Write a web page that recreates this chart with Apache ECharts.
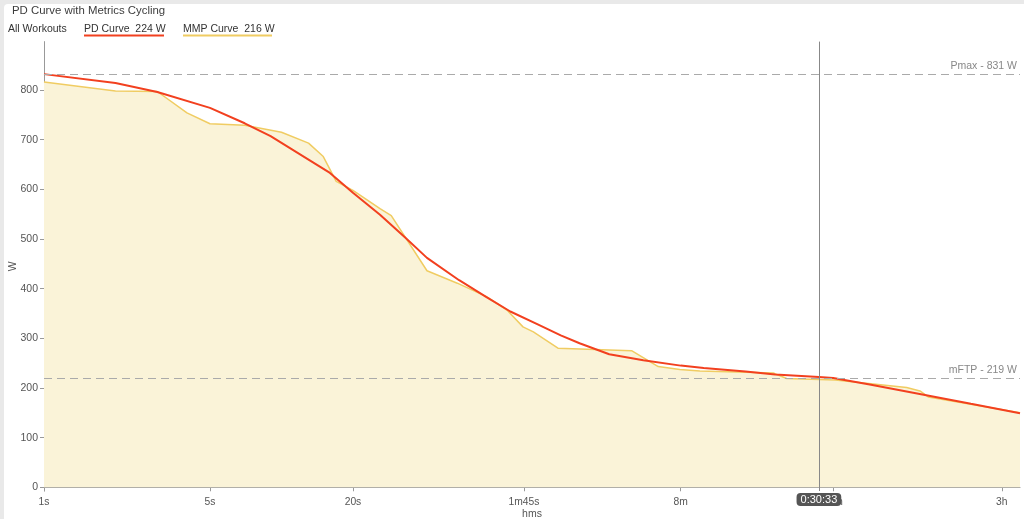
<!DOCTYPE html>
<html>
<head>
<meta charset="utf-8">
<script src="https://cdn.jsdelivr.net/npm/echarts@6/dist/echarts.min.js"></script>
<style>
html,body{margin:0;padding:0;background:#e9e9e9;}
#c{width:1024px;height:519px;}
</style>
</head>
<body>
<div id="c"></div>
<script>
// ---- data ----
const titleText = 'PD Curve with Metrics Cycling';
const legendTexts = ['All Workouts', 'PD Curve  224 W', 'MMP Curve  216 W'];

const mmpSecs  = [1, 2, 3, 4, 5, 7, 10, 13, 15, 17, 20, 26, 29, 41, 55, 73, 89, 104, 115, 146, 298, 386, 476, 578, 1177, 1341, 2150, 4292, 4884, 5292, 8000, 12882];
const mmpWatts = [816, 798, 797, 754, 732, 729, 715, 693, 666, 616, 598, 561, 547, 436, 411, 384, 357, 323, 313, 280, 275, 243, 237, 234, 230, 219, 216, 201, 194, 182, 167, 150];

const pdSecs  = [1, 2, 3, 5, 7, 9, 13, 16, 20, 26, 33, 41, 56, 73, 92, 120, 150, 180, 240, 334, 480, 600, 900, 1200, 1833, 2106, 3000, 5127, 8000, 12882];
const pdWatts = [832, 814, 796, 764, 733, 707, 660, 633, 593, 549, 504, 462, 417, 383, 354, 328, 306, 290, 268, 256, 245, 240, 233, 227, 222, 220, 207, 186, 168, 149];

const tickSecs   = [1, 5, 20, 105, 480, 2100, 10800];
const tickLabels = ['1s', '5s', '20s', '1m45s', '8m', '35m', '3h'];
const xMaxSecs = 12882;

const yTicks = [0, 100, 200, 300, 400, 500, 600, 700, 800];
const yMin = -7.5, yMax = 897.5;

const markNames  = ['Pmax - 831 W', 'mFTP - 219 W'];
const markValues = [831, 219];

const cursorSecs = 1833;
const cursorLabel = '0:30:33';

// ---- build ----
const lg = v => Math.log10(v);
const mmpData = mmpSecs.map((s, i) => [lg(s), mmpWatts[i]]);
const pdData  = pdSecs.map((s, i) => [lg(s), pdWatts[i]]);
const tickVals = tickSecs.map(lg);
function tickLabel(v) {
  let best = 0, bd = Infinity;
  tickVals.forEach((t, i) => { const d = Math.abs(t - v); if (d < bd) { bd = d; best = i; } });
  return bd < 1e-6 ? tickLabels[best] : '';
}

const font = '"Liberation Sans", Arial, Helvetica, sans-serif';
const chart = echarts.init(document.getElementById('c'), null, {renderer: 'canvas'});

chart.setOption({
  animation: false,
  backgroundColor: '#e9e9e9',
  textStyle: {fontFamily: font},
  grid: {left: 44, right: 4, top: 41.6, bottom: 28, containLabel: false, outerBoundsMode: 'none'},
  graphic: [
    {type: 'rect', z: -10, silent: true, shape: {x: 4, y: 4, width: 1040, height: 540, r: 4}, style: {fill: '#ffffff'}},
    {type: 'text', left: 12, top: 5.5, style: {text: titleText, fill: '#3c3c3c', font: '11.4px ' + font}},
    {type: 'text', left: 8, top: 23.5, style: {text: legendTexts[0], fill: '#333', font: '10.5px ' + font}},
    {type: 'text', left: 84, top: 23.5, style: {text: legendTexts[1], fill: '#333', font: '10.5px ' + font}},
    {type: 'line', shape: {x1: 84, y1: 35.5, x2: 164, y2: 35.5}, style: {stroke: '#f2401f', lineWidth: 2}},
    {type: 'text', left: 183, top: 23.5, style: {text: legendTexts[2], fill: '#333', font: '10.5px ' + font}},
    {type: 'line', shape: {x1: 183, y1: 35.5, x2: 272, y2: 35.5}, style: {stroke: '#f0cc62', lineWidth: 2}}
  ],
  xAxis: {
    type: 'value',
    min: 0,
    max: lg(xMaxSecs),
    name: 'hms',
    nameLocation: 'middle',
    nameGap: 18,
    nameMoveOverlap: false,
    nameTextStyle: {color: '#555', fontSize: 10.5},
    splitLine: {show: false},
    axisLine: {lineStyle: {color: '#999'}},
    axisTick: {customValues: tickVals, length: 4, lineStyle: {color: '#999'}},
    axisLabel: {customValues: tickVals, formatter: tickLabel, color: '#555', fontSize: 10.3, margin: 6},
    axisPointer: {
      show: true,
      type: 'line',
      snap: false,
      status: 'show',
      value: lg(cursorSecs),
      triggerTooltip: false,
      lineStyle: {color: '#888', width: 1, type: 'solid'},
      label: {
        show: true,
        formatter: () => cursorLabel,
        backgroundColor: '#555',
        color: '#fff',
        fontSize: 11,
        borderRadius: 4,
        padding: [1, 4, 1, 4],
        margin: 2
      }
    }
  },
  yAxis: {
    type: 'value',
    min: yMin,
    max: yMax,
    name: 'W',
    nameLocation: 'middle',
    nameGap: 25,
    nameMoveOverlap: false,
    nameTextStyle: {color: '#555', fontSize: 10.5},
    splitLine: {show: false},
    axisLine: {show: true, lineStyle: {color: '#999'}},
    axisTick: {show: true, customValues: yTicks, length: 4, lineStyle: {color: '#999'}},
    axisLabel: {customValues: yTicks, color: '#555', fontSize: 10.5, margin: 6}
  },
  series: [
    {
      name: 'MMP Curve',
      type: 'line',
      data: mmpData,
      showSymbol: false,
      symbol: 'none',
      lineStyle: {color: '#f0cc62', width: 1.5},
      areaStyle: {color: '#faf3d8', opacity: 1},
      z: 2
    },
    {
      name: 'PD Curve',
      type: 'line',
      data: pdData,
      showSymbol: false,
      symbol: 'none',
      lineStyle: {color: '#f2401f', width: 2},
      z: 4,
      markLine: {
        silent: true,
        symbol: 'none',
        lineStyle: {color: '#aaa', type: [8, 5], width: 1},
        label: {position: 'insideEndTop', color: '#888', fontSize: 10.5, distance: 3, formatter: p => p.name},
        data: markValues.map((v, i) => ({yAxis: v, name: markNames[i]}))
      }
    }
  ]
});
</script>
</body>
</html>
